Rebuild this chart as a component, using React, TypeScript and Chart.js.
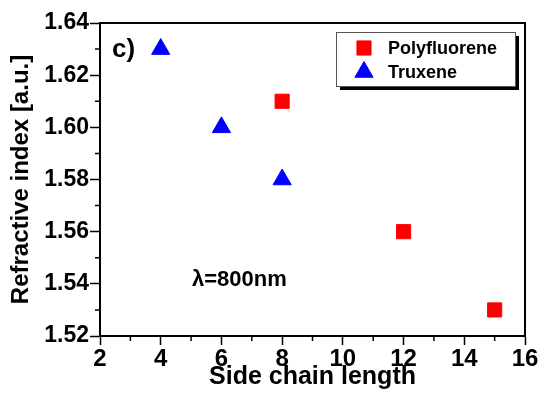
import React, { useEffect, useRef } from 'react';
import { Chart, registerables } from 'chart.js';
import { drawPoint } from 'chart.js/helpers';

Chart.register(...registerables);

const polyfluoreneX = [8, 12, 15];
const polyfluoreneY = [1.61, 1.56, 1.53];
const truxeneX = [4, 6, 8];
const truxeneY = [1.63, 1.6, 1.58];
const seriesNames = ['Polyfluorene', 'Truxene'];
const xTitle = 'Side chain length';
const yTitle = 'Refractive index [a.u.]';
const panelLabel = 'c)';
const noteLabel = 'λ=800nm';
const xRange = [2, 16];
const yRange = [1.52, 1.64];
const xMinor = [3, 5, 7, 9, 11, 13, 15];
const yMinor = [1.53, 1.55, 1.57, 1.59, 1.61, 1.63];

const FONT = '"Liberation Sans", Arial, sans-serif';

const extrasPlugin = {
  id: 'extras',
  afterDraw(chart: any) {
    const { ctx, chartArea, scales } = chart;
    const { left, right, top, bottom } = chartArea;
    ctx.save();
    // frame
    ctx.strokeStyle = '#000';
    ctx.lineWidth = 2;
    ctx.strokeRect(left, top, right - left, bottom - top);
    // minor ticks
    ctx.lineWidth = 1.5;
    ctx.beginPath();
    xMinor.forEach((v) => {
      const px = scales.x.getPixelForValue(v);
      ctx.moveTo(px, bottom);
      ctx.lineTo(px, bottom + 5);
    });
    yMinor.forEach((v) => {
      const py = scales.y.getPixelForValue(v);
      ctx.moveTo(left, py);
      ctx.lineTo(left - 5, py);
    });
    ctx.stroke();

    // panel label
    ctx.fillStyle = '#000';
    ctx.font = `bold 26px ${FONT}`;
    ctx.textBaseline = 'alphabetic';
    ctx.textAlign = 'left';
    ctx.fillText(panelLabel, left + 12, top + 34);

    // note
    ctx.font = `bold 22px ${FONT}`;
    ctx.fillText(noteLabel, left + 92, top + 263);

    // legend
    const bw = 179;
    const bh = 54;
    const bx = right - 10 - bw;
    const by = top + 9;
    ctx.fillStyle = '#000';
    ctx.fillRect(bx + 4, by + 4, bw, bh);
    ctx.fillStyle = '#fff';
    ctx.fillRect(bx, by, bw, bh);
    ctx.strokeStyle = '#555';
    ctx.lineWidth = 1;
    ctx.strokeRect(bx + 0.5, by + 0.5, bw, bh);
    chart.data.datasets.forEach((ds: any, i: number) => {
      const cy = by + 16 + i * 24;
      const cx = bx + 28;
      ctx.fillStyle = ds.backgroundColor;
      ctx.strokeStyle = ds.borderColor;
      ctx.lineWidth = 1;
      drawPoint(ctx, { pointStyle: ds.pointStyle, radius: ds.pointRadius, borderWidth: 1, rotation: 0 } as any, cx, cy);
      ctx.fillStyle = '#000';
      ctx.font = `bold 18px ${FONT}`;
      ctx.textBaseline = 'middle';
      ctx.textAlign = 'left';
      ctx.fillText(ds.label, bx + 52, cy + 1);
    });
    ctx.restore();
  },
};

export default function App() {
  const ref = useRef<HTMLCanvasElement | null>(null);
  useEffect(() => {
    if (!ref.current) return;
    const chart = new Chart(ref.current, {
      type: 'scatter',
      data: {
        datasets: [
          {
            label: seriesNames[0],
            data: polyfluoreneX.map((x, i) => ({ x, y: polyfluoreneY[i] })),
            pointStyle: 'rect',
            pointRadius: 10,
            backgroundColor: '#ff0000',
            borderColor: '#ff0000',
            borderWidth: 1,
          },
          {
            label: seriesNames[1],
            data: truxeneX.map((x, i) => ({ x, y: truxeneY[i] })),
            pointStyle: 'triangle',
            pointRadius: 10.5,
            backgroundColor: '#0000ff',
            borderColor: '#0000ff',
            borderWidth: 1,
          },
        ],
      },
      options: {
        animation: false,
        responsive: true,
        maintainAspectRatio: false,
        layout: { padding: { top: 23, right: 15, left: 0, bottom: 0 } },
        plugins: { legend: { display: false }, tooltip: { enabled: false } },
        scales: {
          x: {
            type: 'linear',
            min: xRange[0],
            max: xRange[1],
            afterFit: (s: any) => { s.height = 60; },
            ticks: {
              stepSize: 2,
              color: '#000',
              padding: 0,
              font: { family: FONT, size: 24, weight: 'bold' },
              maxRotation: 0,
            },
            grid: { drawOnChartArea: false, drawTicks: true, tickLength: 9, color: '#000', tickWidth: 1.5 },
            border: { display: true, color: '#000', width: 2 },
            title: {
              display: true,
              text: xTitle,
              color: '#000',
              font: { family: FONT, size: 25, weight: 'bold' },
              padding: { top: 0, bottom: 4 },
            },
          },
          y: {
            type: 'linear',
            min: yRange[0],
            max: yRange[1],
            afterFit: (s: any) => { s.width = 100; },
            ticks: {
              stepSize: 0.02,
              color: '#000',
              padding: 1,
              font: { family: FONT, size: 23, weight: 'bold' },
              callback: (v: any) => Number(v).toFixed(2),
            },
            grid: { drawOnChartArea: false, drawTicks: true, tickLength: 10, color: '#000', tickWidth: 1.5 },
            border: { display: true, color: '#000', width: 2 },
            title: {
              display: true,
              text: yTitle,
              color: '#000',
              font: { family: FONT, size: 24, weight: 'bold' },
              padding: { top: 7, bottom: 0 },
            },
          },
        },
      },
      plugins: [extrasPlugin],
    });
    return () => chart.destroy();
  }, []);
  return (
    <div style={{ position: 'fixed', left: 0, top: 0, width: 540, height: 396, background: '#fff' }}>
      <canvas ref={ref} />
    </div>
  );
}
